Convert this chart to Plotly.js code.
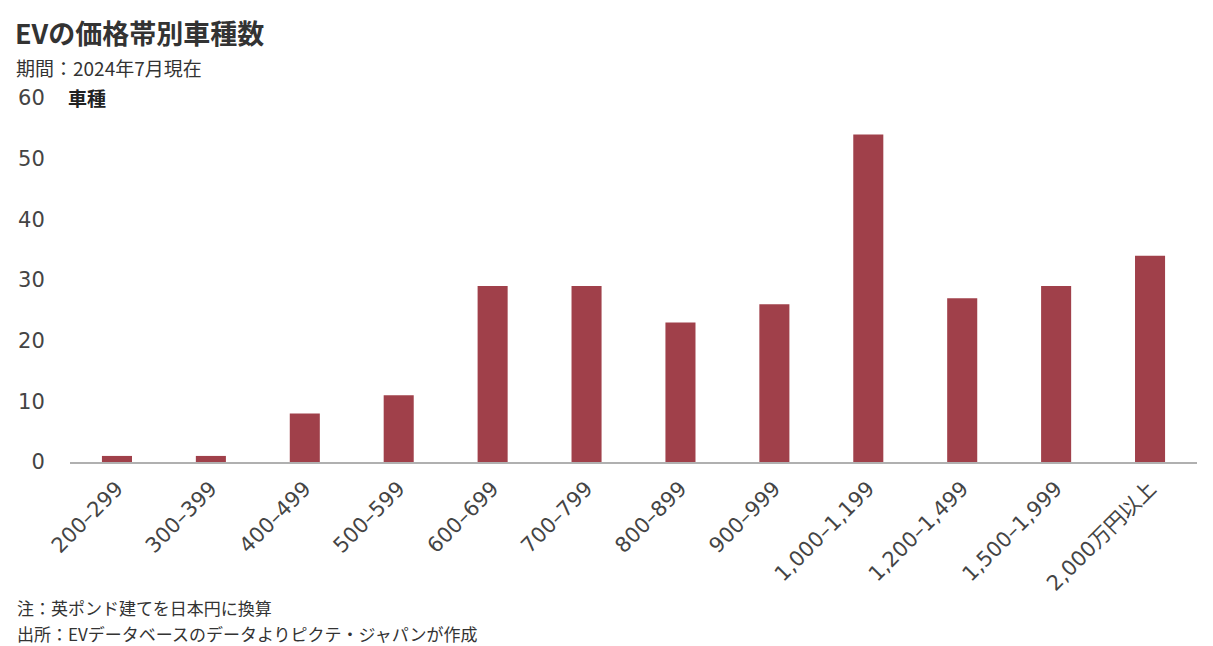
<!DOCTYPE html>
<html><head><meta charset="utf-8">
<script src="https://cdn.plot.ly/plotly-3.0.1.min.js"></script>
<style>html,body{margin:0;padding:0;background:#fff}#chart{width:1213px;height:646px}</style>
</head><body><div id="chart"></div>
<script>
const categories = ["200–299","300–399","400–499","500–599","600–699","700–799","800–899","900–999","1,000–1,199","1,200–1,499","1,500–1,999","2,000万円以上"];
const carCounts = [1,1,8,11,29,29,23,26,54,27,29,34];
const yTicks = [0,10,20,30,40,50,60];

const L=70, R=1197, T=98, B=462;
const px = x => (x-L)/(R-L);
const py = y => (B-y)/(B-T);
const F = '"Noto Sans CJK JP", "Noto Sans", sans-serif';
const FN = '"DejaVu Sans", "Noto Sans CJK JP", sans-serif';

const trace = {type:'bar', x:categories, y:carCounts, width:0.32,
  marker:{color:'#A0404A', line:{width:0}}, hoverinfo:'x+y'};

const layout = {
  width:1213, height:646,
  margin:{l:L, r:1213-R, t:T, b:646-B},
  paper_bgcolor:'#fff', plot_bgcolor:'#fff',
  showlegend:false,
  font:{family:F, color:'#444'},
  xaxis:{type:'category', range:[-0.5,11.5], tickangle:-45, showgrid:false, zeroline:false,
    showline:true, linecolor:'#b0b0b0', linewidth:2, ticks:'outside', ticklen:4, tickcolor:'rgba(0,0,0,0)',
    tickfont:{family:FN, size:21, color:'#444'}},
  yaxis:{range:[0,60], tickvals:yTicks, showgrid:false, zeroline:false, showline:false,
    ticks:'outside', ticklen:20, tickcolor:'rgba(0,0,0,0)',
    tickfont:{family:FN, size:21, color:'#444'}},
  annotations:[
    {xref:'paper', yref:'paper', x:px(13), y:py(33), xanchor:'left', yanchor:'middle', showarrow:false,
     text:'<b>EVの価格帯別車種数</b>', font:{family:F, size:27, color:'#333'}},
    {xref:'paper', yref:'paper', x:px(14), y:py(67), xanchor:'left', yanchor:'middle', showarrow:false,
     text:'期間：2024年7月現在', font:{family:F, size:19, color:'#333'}},
    {xref:'paper', yref:'paper', x:px(66), y:py(97), xanchor:'left', yanchor:'middle', showarrow:false,
     text:'<b>車種</b>', font:{family:F, size:19, color:'#222'}},
    {xref:'paper', yref:'paper', x:px(15), y:py(607), xanchor:'left', yanchor:'middle', showarrow:false,
     text:'注：英ポンド建てを日本円に換算', font:{family:F, size:17, color:'#333'}},
    {xref:'paper', yref:'paper', x:px(15), y:py(633), xanchor:'left', yanchor:'middle', showarrow:false,
     text:'出所：EVデータベースのデータよりピクテ・ジャパンが作成', font:{family:F, size:17, color:'#333'}}
  ]
};
Plotly.newPlot('chart',[trace],layout,{displayModeBar:false, staticPlot:true});
</script></body></html>
